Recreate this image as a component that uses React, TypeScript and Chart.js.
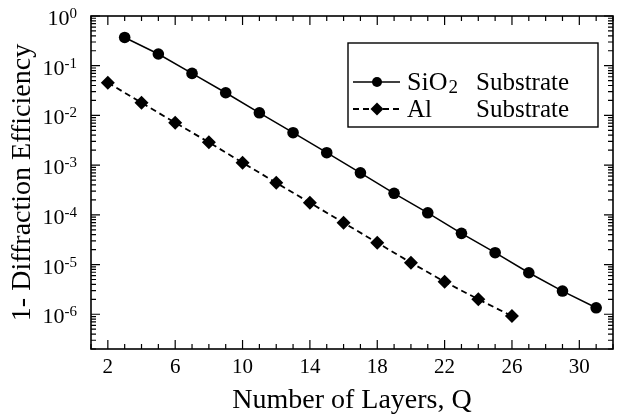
import React, { useEffect, useRef } from 'react';
import { Chart, registerables } from 'chart.js';

Chart.register(...registerables);

// ---- data ----
const sio2Layers = [3, 5, 7, 9, 11, 13, 15, 17, 19, 21, 23, 25, 27, 29, 31];
const sio2Values = [0.37, 0.172, 0.07, 0.0286, 0.0113, 4.49e-3, 1.78e-3, 7.0e-4, 2.71e-4, 1.1e-4, 4.24e-5, 1.73e-5, 6.84e-6, 2.93e-6, 1.35e-6];
const alLayers = [2, 4, 6, 8, 10, 12, 14, 16, 18, 20, 22, 24, 26];
const alValues = [0.0455, 0.018, 7.13e-3, 2.88e-3, 1.12e-3, 4.42e-4, 1.75e-4, 6.93e-5, 2.75e-5, 1.09e-5, 4.51e-6, 2.0e-6, 9.2e-7];
const xTickLabels = [2, 6, 10, 14, 18, 22, 26, 30];
const yDecadeExponents = [0, -1, -2, -3, -4, -5, -6];
const xMin = 1;
const xMax = 32;
const yMin = 2e-7;
const yMax = 1;
const xTitle = 'Number of Layers, Q';
const yTitle = '1- Diffraction Efficiency';

const FAMILY = '"Liberation Serif"';
const font = (px: number) => `${px}px ${FAMILY}`;

const decoPlugin = {
  id: 'deco',
  afterDraw(chart: any) {
    const { ctx, chartArea: a, scales } = chart;
    const xs = scales.x;
    const ys = scales.y;
    ctx.save();
    ctx.strokeStyle = '#000';
    ctx.fillStyle = '#000';
    // frame
    ctx.lineWidth = 1.6;
    ctx.strokeRect(a.left, a.top, a.right - a.left, a.bottom - a.top);
    // ticks (inward, all four sides)
    ctx.lineWidth = 1.2;
    ctx.beginPath();
    for (let v = xMin; v <= xMax; v++) {
      const px = xs.getPixelForValue(v);
      const len = xTickLabels.includes(v) ? 9 : 5;
      ctx.moveTo(px, a.bottom);
      ctx.lineTo(px, a.bottom - len);
      ctx.moveTo(px, a.top);
      ctx.lineTo(px, a.top + len);
    }
    for (let k = -7; k <= 0; k++) {
      for (let m = 1; m <= 9; m++) {
        const v = m * Math.pow(10, k);
        if (v < yMin * 0.9999 || v > yMax * 1.0001) continue;
        const py = ys.getPixelForValue(v);
        const len = m === 1 ? 9 : 5;
        ctx.moveTo(a.left, py);
        ctx.lineTo(a.left + len, py);
        ctx.moveTo(a.right, py);
        ctx.lineTo(a.right - len, py);
      }
    }
    ctx.stroke();

    // x tick labels
    ctx.font = font(21);
    ctx.textAlign = 'center';
    ctx.textBaseline = 'alphabetic';
    xTickLabels.forEach((v) => {
      ctx.fillText(String(v), xs.getPixelForValue(v), a.bottom + 24);
    });

    // y tick labels 10^k
    const rightEdge = a.left - 14;
    yDecadeExponents.forEach((e) => {
      const py = ys.getPixelForValue(Math.pow(10, e));
      const base = '10';
      const exp = e === 0 ? '0' : '-' + String(-e);
      ctx.font = font(15);
      const ew = ctx.measureText(exp).width;
      ctx.font = font(22);
      const bw = ctx.measureText(base).width;
      ctx.textAlign = 'left';
      ctx.textBaseline = 'alphabetic';
      ctx.fillText(base, rightEdge - ew - bw, py + 9);
      ctx.font = font(15);
      ctx.fillText(exp, rightEdge - ew, py + 2);
    });

    // axis titles
    ctx.font = font(28);
    ctx.textAlign = 'center';
    ctx.textBaseline = 'alphabetic';
    ctx.fillText(xTitle, (a.left + a.right) / 2, 408);
    ctx.save();
    ctx.translate(30, (a.top + a.bottom) / 2);
    ctx.rotate(-Math.PI / 2);
    ctx.fillText(yTitle, 0, 0);
    ctx.restore();

    // legend
    const lx = a.right - 15 - 250;
    const ly = a.top + 27;
    ctx.lineWidth = 1.4;
    ctx.strokeRect(lx, ly, 250, 84);
    const rows = [ly + 39, ly + 66];
    ctx.lineWidth = 1.5;
    ctx.setLineDash([]);
    ctx.beginPath();
    ctx.moveTo(lx + 5, rows[0]);
    ctx.lineTo(lx + 52, rows[0]);
    ctx.stroke();
    ctx.beginPath();
    ctx.arc(lx + 29, rows[0], 5, 0, Math.PI * 2);
    ctx.fill();
    ctx.lineWidth = 1.8;
    ctx.setLineDash([6, 4]);
    ctx.beginPath();
    ctx.moveTo(lx + 5, rows[1]);
    ctx.lineTo(lx + 52, rows[1]);
    ctx.stroke();
    ctx.setLineDash([]);
    ctx.beginPath();
    const dx = lx + 29;
    const dy = rows[1];
    ctx.moveTo(dx - 6.5, dy);
    ctx.lineTo(dx, dy - 6.5);
    ctx.lineTo(dx + 6.5, dy);
    ctx.lineTo(dx, dy + 6.5);
    ctx.closePath();
    ctx.fill();
    ctx.textAlign = 'left';
    ctx.textBaseline = 'alphabetic';
    ctx.font = font(26);
    const tx = lx + 59;
    const b1 = rows[0] + 8;
    ctx.fillText('SiO', tx, b1);
    const w = ctx.measureText('SiO').width;
    ctx.font = font(19);
    ctx.fillText('2', tx + w + 1, b1 + 3);
    ctx.font = font(25);
    const b2 = rows[1] + 8;
    ctx.fillText('Substrate', lx + 128, b1);
    ctx.fillText('Al', tx, b2);
    ctx.fillText('Substrate', lx + 128, b2);
    ctx.restore();
  },
};

export default function App() {
  const ref = useRef<HTMLCanvasElement | null>(null);
  useEffect(() => {
    if (!ref.current) return;
    const chart = new Chart(ref.current, {
      type: 'line',
      data: {
        datasets: [
          {
            label: 'SiO2 Substrate',
            data: sio2Layers.map((x, i) => ({ x, y: sio2Values[i] })),
            borderColor: '#000',
            backgroundColor: '#000',
            borderWidth: 1.5,
            pointStyle: 'circle',
            pointRadius: 5.8,
            pointBorderWidth: 0,
            pointBackgroundColor: '#000',
            tension: 0,
          },
          {
            label: 'Al Substrate',
            data: alLayers.map((x, i) => ({ x, y: alValues[i] })),
            borderColor: '#000',
            backgroundColor: '#000',
            borderWidth: 1.8,
            borderDash: [6, 4],
            pointStyle: 'rectRot',
            pointRadius: 7,
            pointBorderWidth: 0,
            pointBackgroundColor: '#000',
            tension: 0,
          },
        ],
      },
      options: {
        animation: false,
        responsive: false,
        devicePixelRatio: 1,
        font: { family: FAMILY },
        layout: { padding: { top: 16, right: 10, left: 0, bottom: 0 } },
        plugins: { legend: { display: false }, tooltip: { enabled: false } },
        scales: {
          x: {
            type: 'linear',
            min: xMin,
            max: xMax,
            ticks: { display: false },
            grid: { display: false, drawTicks: false },
            border: { display: false },
            afterFit: (s: any) => {
              s.height = 68;
            },
          },
          y: {
            type: 'logarithmic',
            min: yMin,
            max: yMax,
            ticks: { display: false },
            grid: { display: false, drawTicks: false },
            border: { display: false },
            afterFit: (s: any) => {
              s.width = 91;
            },
          },
        },
      },
      plugins: [decoPlugin],
    });
    return () => chart.destroy();
  }, []);
  return (
    <div style={{ position: 'fixed', left: 0, top: 0, width: 623, height: 417, background: '#fff' }}>
      <canvas ref={ref} width={623} height={417} style={{ display: 'block' }} />
    </div>
  );
}
